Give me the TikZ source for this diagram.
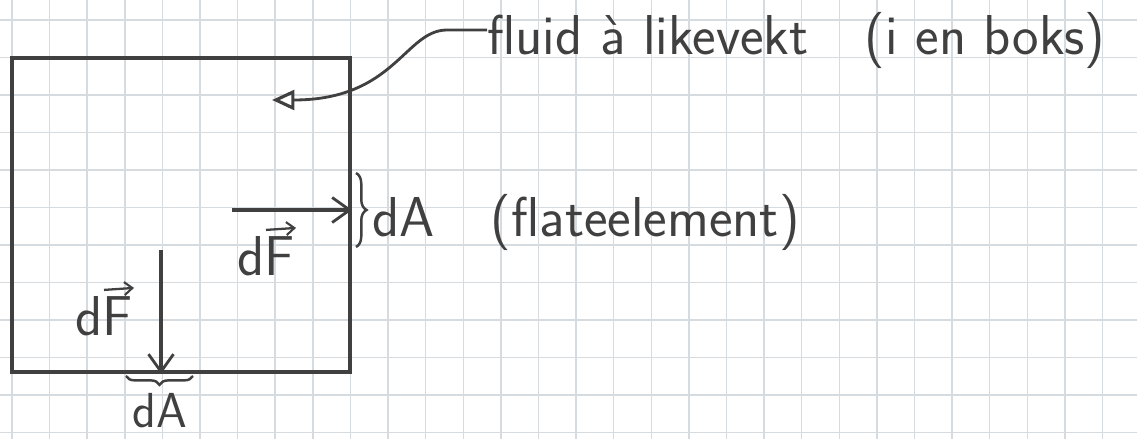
\documentclass[tikz,border=0pt]{standalone}
\usepackage{fontspec}
\usetikzlibrary{arrows.meta,decorations.pathreplacing,positioning}
\definecolor{ink}{HTML}{404040}
\definecolor{paper}{HTML}{D6DBE0}

\begin{document}
\begin{tikzpicture}[x=0.02cm, y=-0.02cm,
    wall/.style={draw=ink, line width=2.4pt},
    force/.style={draw=ink, line width=1.8pt, -{Straight Barb[length=3.5mm,width=5mm,line width=1.6pt]}},
    vecbar/.style={draw=ink, line width=1.3pt, -{Straight Barb[length=1.6mm,width=2.6mm,line width=1.2pt]}},
    pointer/.style={draw=ink, line width=1.6pt, -{Triangle[open,length=4.5mm,width=4mm,line width=1.8pt]}},
    curly/.style={draw=ink, line width=1.4pt, decorate, decoration={brace,amplitude=#1}},
    label/.style={text=ink, font=\fontsize{32}{36}\selectfont\sffamily},
    every node/.style={inner sep=0pt}
]
    \useasboundingbox (0,0) rectangle (1137,439);

    % squared paper
    \foreach \i in {0,...,29}
        \draw[paper, line width=0.8pt] (12+37.6*\i,0) -- (12+37.6*\i,439);
    \foreach \j in {0,...,11}
        \draw[paper, line width=0.8pt] (0,20+37.5*\j) -- (1137,20+37.5*\j);

    % the box
    \node[wall, minimum width=6.76cm, minimum height=6.28cm] (box) at (181,215) {};

    % fluid label
    \node[label, anchor=west] (fluid) at (487,40) {fluid à likevekt\quad (i en boks)};
    \coordinate (inside) at (272,100);
    \draw[pointer] ([yshift=0.2cm]fluid.west) -- ++(-40,0) .. controls (405,30) and (395,100) .. (inside);

    % force on the side wall
    \coordinate (hstart) at (232,210);
    \draw[force] (hstart) -- (hstart -| box.east);
    \node[label] (dFside) at (266,256) {dF};
    \draw[vecbar] ([shift={(0,-6)}]dFside.north) -- ([shift={(30,-8)}]dFside.north);
    \coordinate (btop) at (356,173);
    \coordinate (bbot) at (356,247);
    \draw[curly=6pt] (btop) -- (bbot);
    \node[label, anchor=west] (dAside) at (372,222) {dA\quad (flateelement)};

    % force on the bottom
    \coordinate (vstart) at (161,250);
    \draw[force] (vstart) -- (vstart |- box.south);
    \node[label] (dFbottom) at (104,316) {dF};
    \draw[vecbar] ([shift={(0,-6)}]dFbottom.north) -- ([shift={(30,-8)}]dFbottom.north);
    \coordinate (bright) at (193,376);
    \coordinate (bleft) at (126,376);
    \draw[curly=5pt] (bright) -- (bleft);
    \node[label, font=\fontsize{28}{32}\selectfont\sffamily] (dAbottom) at (160,411) {dA};
\end{tikzpicture}
\end{document}
